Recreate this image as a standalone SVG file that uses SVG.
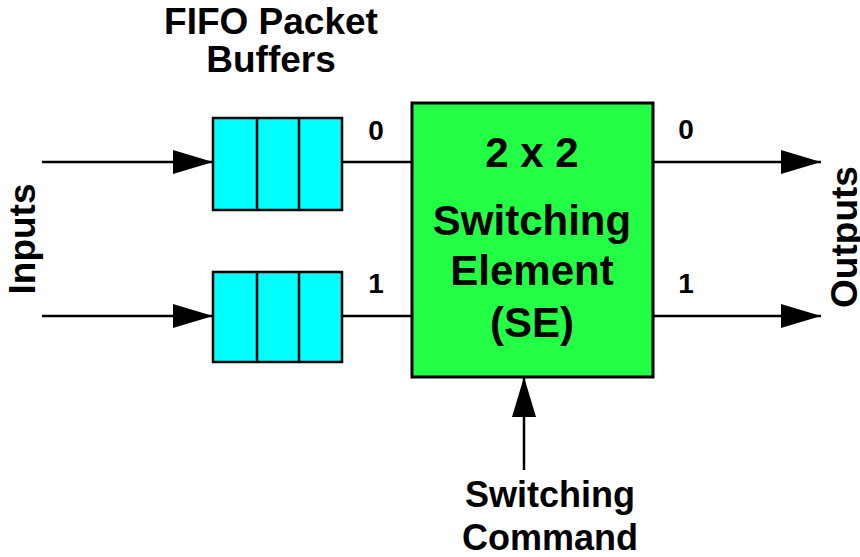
<svg xmlns="http://www.w3.org/2000/svg" width="860" height="557" viewBox="0 0 860 557">
<defs>
<style>
text{font-family:"Liberation Sans",Arial,sans-serif;font-weight:bold;fill:#000}
.big{font-size:42px;text-anchor:middle}
.lbl{font-size:37px;text-anchor:middle}
.cmd{font-size:36px;text-anchor:middle}
.num{font-size:28px;text-anchor:middle}
.edge{stroke:#000;stroke-width:2.5;fill:none}
.buf{fill:#00ffff;stroke:#000;stroke-width:2.5}
.div{stroke:#000;stroke-width:2.5}
</style>
<marker id="arr" markerUnits="userSpaceOnUse" markerWidth="40" markerHeight="24" refX="40" refY="12" orient="auto">
<path d="M0,0 L40,12 L0,24 Z" fill="#000"/>
</marker>
</defs>
<rect width="860" height="557" fill="#fff"/>
<g id="connectors">
<line class="edge" x1="42" y1="162" x2="213" y2="162" marker-end="url(#arr)"/>
<line class="edge" x1="42" y1="316" x2="213" y2="316" marker-end="url(#arr)"/>
<line class="edge" x1="342" y1="162" x2="412" y2="162"/>
<line class="edge" x1="342" y1="316" x2="412" y2="316"/>
<line class="edge" x1="653" y1="162" x2="821" y2="162" marker-end="url(#arr)"/>
<line class="edge" x1="653" y1="316" x2="821" y2="316" marker-end="url(#arr)"/>
<line class="edge" x1="524" y1="470" x2="524" y2="377" marker-end="url(#arr)"/>
</g>
<g id="buffer0">
<rect class="buf" x="213" y="118" width="129" height="92"/>
<line class="div" x1="257" y1="118" x2="257" y2="210"/>
<line class="div" x1="299" y1="118" x2="299" y2="210"/>
</g>
<g id="buffer1">
<rect class="buf" x="213" y="272" width="129" height="90"/>
<line class="div" x1="257" y1="272" x2="257" y2="362"/>
<line class="div" x1="299" y1="272" x2="299" y2="362"/>
</g>
<g id="se">
<rect x="412" y="103" width="241" height="274" fill="#22ff44" stroke="#000" stroke-width="3"/>
<text class="big" x="532" y="167">2 x 2</text>
<text class="big" x="532" y="235">Switching</text>
<text class="big" x="532" y="285">Element</text>
<text class="big" x="532" y="337">(SE)</text>
</g>
<g id="labels">
<text class="lbl" x="271" y="34">FIFO Packet</text>
<text class="lbl" x="271" y="72">Buffers</text>
<text class="cmd" x="550" y="507">Switching</text>
<text class="cmd" x="550" y="550">Command</text>
<text class="lbl" transform="translate(35,239) rotate(-90)">Inputs</text>
<text class="lbl" transform="translate(857,237) rotate(-90)">Outputs</text>
<text class="num" x="376" y="140">0</text>
<text class="num" x="376" y="293">1</text>
<text class="num" x="686" y="139">0</text>
<text class="num" x="686" y="293">1</text>
</g>
</svg>
